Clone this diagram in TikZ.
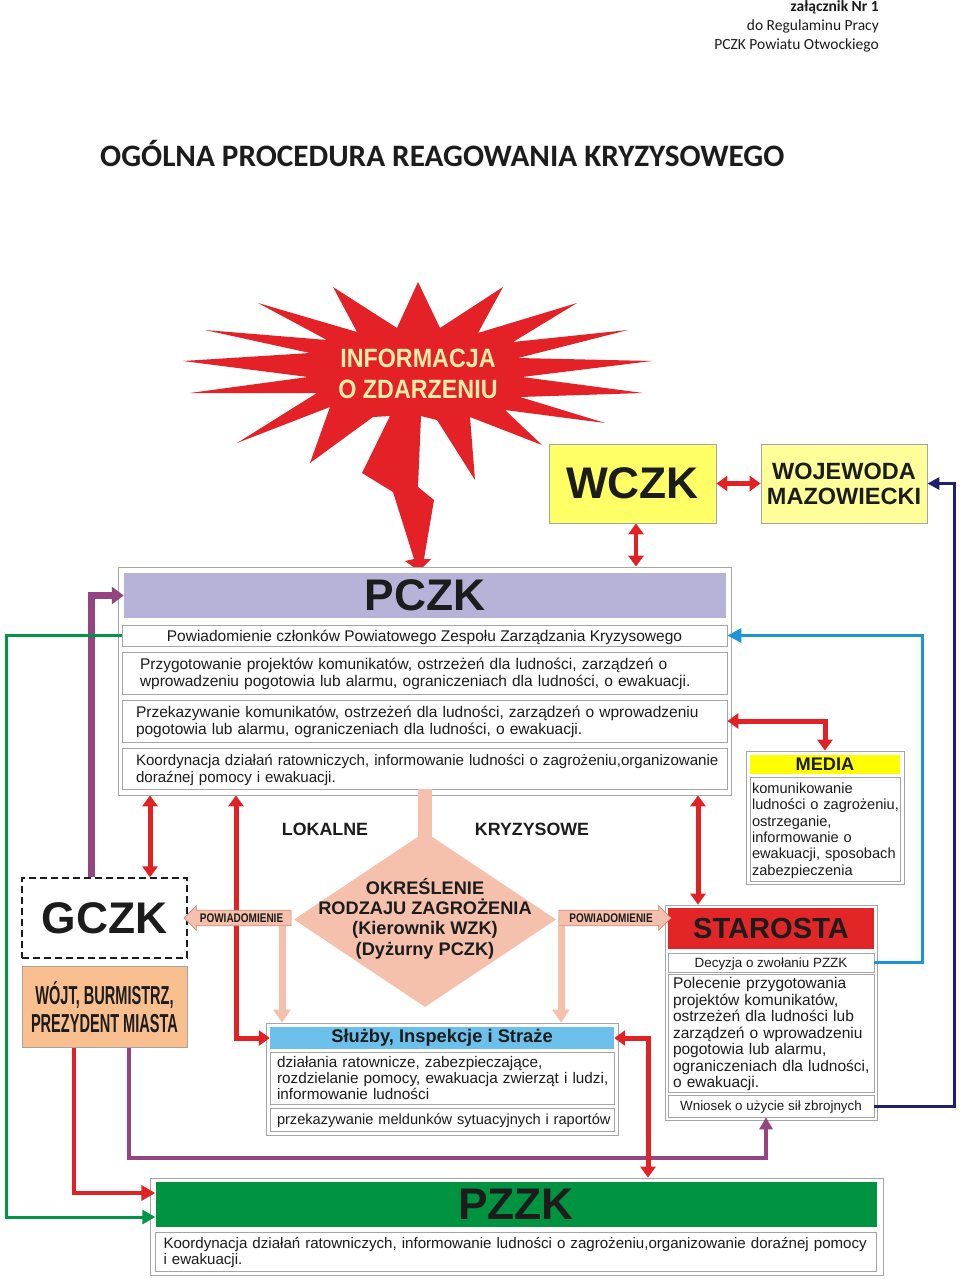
\documentclass[tikz,border=0pt]{standalone}
\usepackage{fontspec}
\setmainfont{Liberation Sans}
\newfontfamily\carl{Carlito}
\newfontfamily\infofont[FakeStretch=0.88]{Liberation Sans}
\newfontfamily\wojtfont[FakeStretch=0.56]{Liberation Sans}
\newfontfamily\powfont[FakeStretch=0.8]{Liberation Sans}
\usetikzlibrary{arrows.meta}
\usetikzlibrary{shapes.geometric}
\usetikzlibrary{shapes.arrows}

\definecolor{burst}{RGB}{228,33,38}
\definecolor{cream}{RGB}{255,238,170}
\definecolor{ylw}{RGB}{255,255,102}
\definecolor{ylwlt}{RGB}{255,255,153}
\definecolor{ylwmed}{RGB}{255,255,0}
\definecolor{lav}{RGB}{183,179,216}
\definecolor{peach}{RGB}{250,191,143}
\definecolor{pinkd}{RGB}{245,192,172}
\definecolor{pinkedge}{RGB}{200,140,120}
\definecolor{bluehead}{RGB}{108,192,236}
\definecolor{strred}{RGB}{226,38,40}
\definecolor{grn}{RGB}{0,148,64}
\definecolor{arrred}{RGB}{224,34,36}
\definecolor{purp}{RGB}{148,68,128}
\definecolor{bluel}{RGB}{28,148,214}
\definecolor{navyl}{RGB}{34,30,112}
\definecolor{grnl}{RGB}{0,150,72}
\definecolor{bord}{RGB}{165,165,165}
\definecolor{ink}{RGB}{28,28,28}

\newcommand{\fsz}[2]{\fontsize{#1}{#2}\selectfont}
% lines set flush left, never broken
\newcommand{\tablines}[1]{\noindent\raisebox{-2pt}[\height][\depth]{\begin{tabular}{@{}l@{}}#1\end{tabular}}}

\begin{document}
\begin{tikzpicture}[x=1pt,y=-1pt,
  cell/.style={draw=bord,fill=white,line width=0.8pt,inner sep=0pt,text=ink,font=\fsz{15.5}{17}},
  oneline/.style={text depth=0pt},
  head/.style={inner sep=0pt,text=ink},
  big/.style={font=\bfseries\fsz{44.3}{44}},
  lbl/.style={inner sep=0pt,text=ink,font=\bfseries\fsz{17.8}{18}},
  redboth/.style={draw=arrred,line width=5pt,{Triangle[width=15pt,length=11pt]}-{Triangle[width=15pt,length=11pt]}},
  powarr/.style={single arrow,fill=pinkd,draw=pinkedge,line width=0.6pt,single arrow head extend=4.5pt,
    inner xsep=1.5pt,inner ysep=3pt,text=ink,font=\powfont\bfseries\fsz{12.5}{12}},
  pinkarr/.style={draw=pinkd,line width=7pt,-{Triangle[width=17pt,length=13pt]}}]

\path[fill=white] (0,0) rectangle (960,1279);
\useasboundingbox (0,0) rectangle (960,1279);

% header
\node[anchor=north east,align=right,inner sep=0pt,text=ink,font=\carl\fsz{15.5}{19}] (annex) at (879,0.5)
  {\textbf{załącznik Nr 1}\\do Regulaminu Pracy\\PCZK Powiatu Otwockiego};
\node[anchor=west,inner sep=0pt,text=ink,font=\carl\bfseries\fsz{31.2}{36}] (title) at (100,154)
  {OGÓLNA PROCEDURA REAGOWANIA KRYZYSOWEGO};

% star with the lightning bolt
\fill[burst] (418,282) -- (440,328) -- (503,287) -- (478,333) -- (577,303) -- (513,342)
  -- (628,330) -- (518,358) -- (652,361) -- (522,377) -- (643,393) -- (520,397)
  -- (605,423) -- (505,410) -- (542,445) -- (470,417) -- (475,480) -- (437,420)
  -- (421,416) -- (418,487) -- (434,500) -- (424,559) -- (431,559) -- (419,571)
  -- (405,561) -- (414,559) -- (393,492) -- (362,473) -- (390,416)
  -- (373,417) -- (310,463) -- (330,407) -- (237,443) -- (317,393) -- (190,393)
  -- (308,377) -- (183,361) -- (310,353) -- (205,330) -- (327,340) -- (258,303)
  -- (357,332) -- (333,287) -- (397,328) -- cycle;
\node[inner sep=0pt,align=center,text=cream,font=\infofont\bfseries\fsz{26.5}{31}] (info) at (418,373.5)
  {INFORMACJA\\O ZDARZENIU};

% WCZK and wojewoda
\node[cell,fill=ylw,minimum width=167,minimum height=79,big] (wczk) at (632.5,483.5) {WCZK};
\node[cell,fill=ylwlt,minimum width=166,minimum height=79,align=center,font=\bfseries\fsz{23.5}{25}] (woj) at (844,483.5)
  {WOJEWODA\\MAZOWIECKI};

% PCZK
\node[cell,minimum width=613,minimum height=228] (pczk) at (424.5,681) {};
\node[head,fill=lav,minimum width=602,minimum height=45,big] (pczkhead) at (425,595.5) {PCZK};
\node[cell,oneline,minimum width=605,minimum height=21] (pcb1) at (424.5,635.5)
  {Powiadomienie członków Powiatowego Zespołu Zarządzania Kryzysowego};
\node[cell,minimum width=605,minimum height=42,text width=569] (pcb2) at (424.5,673)
  {\tablines{Przygotowanie projektów komunikatów, ostrzeżeń dla ludności, zarządzeń o\\wprowadzeniu pogotowia lub alarmu, ograniczeniach dla ludności, o ewakuacji.}};
\node[cell,minimum width=605,minimum height=42,text width=577] (pcb3) at (424.5,721)
  {\tablines{Przekazywanie komunikatów, ostrzeżeń dla ludności, zarządzeń o wprowadzeniu\\pogotowia lub alarmu, ograniczeniach dla ludności, o ewakuacji.}};
\node[cell,minimum width=605,minimum height=41,text width=577,font=\fsz{15.1}{17}] (pcb4) at (424.5,768.5)
  {\tablines{Koordynacja działań ratowniczych, informowanie ludności o zagrożeniu,organizowanie\\doraźnej pomocy i ewakuacji.}};

% MEDIA
\node[cell,minimum width=158,minimum height=133] (media) at (825,817.5) {};
\node[head,fill=ylwmed,minimum width=150,minimum height=19,font=\bfseries\fsz{18.2}{18}] (mediahead) at (825,764) {MEDIA};
\node[cell,minimum width=150,minimum height=104,text width=146,font=\fsz{14.6}{16.3}] (mediatxt) at (825,829)
  {\tablines{komunikowanie\\ludności o zagrożeniu,\\ostrzeganie,\\informowanie o\\ewakuacji, sposobach\\zabezpieczenia}};

% GCZK and wojt
\node[draw=ink,dash pattern=on 7pt off 4pt,line width=1.3pt,fill=white,text=ink,inner sep=0pt,
  minimum width=165,minimum height=80,big] (gczk) at (104.5,918) {GCZK};
\node[cell,fill=peach,minimum width=165,minimum height=81,align=center,font=\wojtfont\bfseries\fsz{26}{28}] (wojt) at (104.5,1007)
  {WÓJT, BURMISTRZ,\\PREZYDENT MIASTA};

% STAROSTA
\node[cell,minimum width=212,minimum height=215] (star) at (771,1012.5) {};
\node[head,fill=strred,minimum width=206,minimum height=41,font=\bfseries\fsz{29.1}{29}] (starhead) at (771,928.5) {STAROSTA};
\node[cell,oneline,minimum width=206,minimum height=19,font=\fsz{13.4}{15}] (stdec) at (771,962.5) {Decyzja o zwołaniu PZZK};
\node[cell,minimum width=206,minimum height=118,text width=196,font=\fsz{15.5}{16.5}] (stpol) at (771,1033)
  {\tablines{Polecenie przygotowania\\projektów komunikatów,\\ostrzeżeń dla ludności lub\\zarządzeń o wprowadzeniu\\pogotowia lub alarmu,\\ograniczeniach dla ludności,\\o ewakuacji.}};
\node[cell,oneline,minimum width=206,minimum height=22,font=\fsz{13.4}{15}] (stwn) at (771,1106) {Wniosek o użycie sił zbrojnych};

% Sluzby
\node[cell,minimum width=352,minimum height=112] (sluz) at (442,1079) {};
\node[head,fill=bluehead,minimum width=344,minimum height=22,font=\bfseries\fsz{18.3}{18}] (sluzhead) at (442,1038)
  {Służby, Inspekcje i Straże};
\node[cell,minimum width=344,minimum height=52,text width=330,font=\fsz{15.3}{16}] (sluzb1) at (442,1078)
  {\tablines{działania ratownicze, zabezpieczające,\\rozdzielanie pomocy, ewakuacja zwierząt i ludzi,\\informowanie ludności}};
\node[cell,minimum width=344,minimum height=23,text width=330,font=\fsz{14.6}{16}] (sluzb2) at (442,1119.5)
  {\tablines{przekazywanie meldunków sytuacyjnych i raportów}};

% PZZK
\node[cell,minimum width=733,minimum height=97] (pzzk) at (516.5,1226.5) {};
\node[head,fill=grn,minimum width=721,minimum height=45,big] (pzhead) at (516,1204.5) {PZZK};
\node[cell,minimum width=721,minimum height=39,text width=705,font=\fsz{15.1}{16}] (pzb1) at (516,1251.5)
  {\tablines{Koordynacja działań ratowniczych, informowanie ludności o zagrożeniu,organizowanie doraźnej pomocy\\i ewakuacji.}};

% connectors
\draw[redboth] (wczk.east) -- (woj.west);
\draw[redboth,line width=4pt] (636,0 |- wczk.south) -- (636,0 |- pczk.north);
\draw[draw=purp,line width=7pt,-{Triangle[width=17pt,length=12pt]}] ([xshift=-13pt]gczk.north) |- (pczkhead.west);
\draw[draw=grnl,line width=3pt,-{Triangle[width=14pt,length=13pt]}] (pcb1.west) -| (6,1000) |- ([yshift=-12.5pt]pzhead.west);
\draw[redboth] (150,0 |- pczk.south) -- (150,0 |- gczk.north);
\draw[redboth] (236,0 |- pczk.south) |- (sluzhead.west);
\draw[redboth] (698,0 |- pczk.south) -- (698,0 |- star.north);
\draw[redboth] (pcb3.east) -| (media.north);
\draw[draw=bluel,line width=3pt,-{Triangle[width=14pt,length=14pt]}] (stdec.east) -| (922,800) |- (pcb1.east);
\draw[draw=navyl,line width=3pt,-{Triangle[width=12pt,length=12pt]}] (stwn.east) -| (954,800) |- (woj.east);
\draw[draw=purp,line width=3.5pt,-{Triangle[width=13pt,length=12pt]}] (129,0 |- wojt.south) |- (766,1158) -- (766,0 |- stwn.south);
\draw[draw=arrred,line width=4pt,-{Triangle[width=15pt,length=14pt]}] (74,0 |- wojt.south) |- ([yshift=11.5pt]pzhead.west);
\draw[redboth] (sluzhead.east) -| (648,0 |- pzzk.north);

% decision diamond
\draw[pinkd,line width=14pt] (425,0 |- pcb4.south) -- (425,840);
\node[diamond,fill=pinkd,inner sep=0pt,minimum width=262,minimum height=175] (diam) at (425,919.5) {};
\node[powarr,shape border rotate=180,minimum height=107] (powl) at (241.5,918) {POWIADOMIENIE};
\node[powarr,minimum height=112] (powr) at (611,918) {POWIADOMIENIE};
\draw[pinkarr] (282,0 |- powl.south) -- (282,0 |- sluz.north);
\draw[pinkarr] (561,0 |- powr.south) -- (561,0 |- sluz.north);
\node[inner sep=0pt,align=center,text=ink,font=\bfseries\fsz{18.2}{20.3}] (diamtxt) at (425,918.5)
  {OKREŚLENIE\\RODZAJU ZAGROŻENIA\\(Kierownik WZK)\\(Dyżurny PCZK)};
\node[lbl] (lok) at (325,829) {LOKALNE};
\node[lbl] (kryz) at (532,829) {KRYZYSOWE};
\end{tikzpicture}
\end{document}
